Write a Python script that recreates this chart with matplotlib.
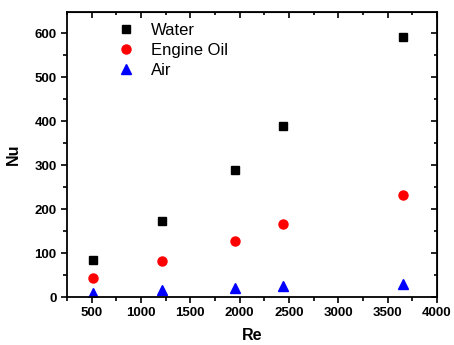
import numpy as np
import matplotlib.pyplot as plt
from matplotlib.ticker import MultipleLocator

re = [512, 1216, 1948, 2437, 3660]
nu_water = [84, 172, 288, 388, 592]
nu_oil = [44, 81, 127, 166, 232]
nu_air = [10, 17, 21, 24, 30]

plt.rcParams['font.family'] = ['Liberation Sans', 'DejaVu Sans']

fig = plt.figure(figsize=(4.54, 3.45), dpi=100)
ax = fig.add_axes([67 / 454, 48 / 345, 370 / 454, 285 / 345])

ax.plot(re, nu_water, 's', color='black', markersize=6, label='Water')
ax.plot(re, nu_oil, 'o', color='red', markersize=6.5, label='Engine Oil')
ax.plot(re, nu_air, '^', color='blue', markersize=7, label='Air')

ax.set_xlim(250, 4000)
ax.set_ylim(0, 648)
ax.xaxis.set_major_locator(MultipleLocator(500))
ax.xaxis.set_minor_locator(MultipleLocator(250))
ax.yaxis.set_major_locator(MultipleLocator(100))
ax.yaxis.set_minor_locator(MultipleLocator(50))

for side in ax.spines.values():
    side.set_linewidth(1.3)
ax.tick_params(which='both', direction='out', width=1.2, top=False, right=False, pad=3)
ax.tick_params(which='major', length=4.5)
ax.tick_params(which='minor', length=3)
for lab in ax.get_xticklabels() + ax.get_yticklabels():
    lab.set_fontweight('bold')
    lab.set_fontsize(9.5)

# inward ticks on top/right, as in the original
sec_x = ax.secondary_xaxis('top')
sec_x.xaxis.set_major_locator(MultipleLocator(500))
sec_x.xaxis.set_minor_locator(MultipleLocator(250))
sec_x.tick_params(which='both', direction='in', width=1.2, labeltop=False)
sec_x.tick_params(which='major', length=4)
sec_x.tick_params(which='minor', length=2.5)
sec_y = ax.secondary_yaxis('right')
sec_y.yaxis.set_major_locator(MultipleLocator(100))
sec_y.yaxis.set_minor_locator(MultipleLocator(50))
sec_y.tick_params(which='both', direction='in', width=1.2, labelright=False)
sec_y.tick_params(which='major', length=4)
sec_y.tick_params(which='minor', length=2.5)

ax.set_xlabel('Re', fontsize=11.5, fontweight='bold', labelpad=6)
ax.set_ylabel('Nu', fontsize=11.5, fontweight='bold', labelpad=10)

ax.legend(loc='upper left', bbox_to_anchor=(0.085, 1.0), frameon=False,
          fontsize=12, handletextpad=0.5, labelspacing=0.3, borderaxespad=0.25)

fig.savefig('out.png', dpi=100)
